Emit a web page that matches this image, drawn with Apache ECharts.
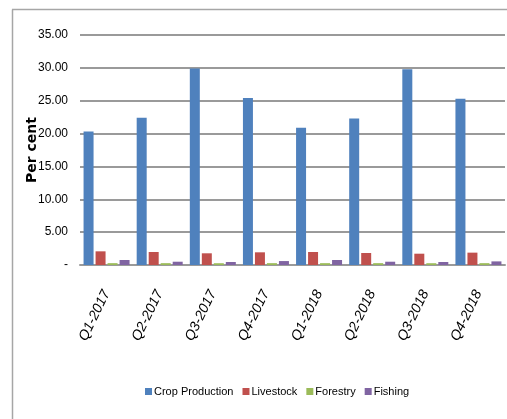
<!DOCTYPE html>
<html>
<head>
<meta charset="utf-8">
<script src="https://cdn.jsdelivr.net/npm/echarts@6/dist/echarts.min.js"></script>
<style>
  html, body { margin: 0; padding: 0; background: #fff; }
  #chart { width: 507px; height: 419px; }
</style>
</head>
<body>
<div id="chart"></div>
<script>
// Quarterly shares by agricultural sub-sector (per cent)
const quarters = ['Q1-2017', 'Q2-2017', 'Q3-2017', 'Q4-2017', 'Q1-2018', 'Q2-2018', 'Q3-2018', 'Q4-2018'];
const cropProduction = [20.3, 22.4, 29.9, 25.4, 20.9, 22.3, 29.8, 25.3];
const livestock = [2.08, 1.98, 1.78, 1.93, 1.98, 1.83, 1.72, 1.88];
const forestry = [0.28, 0.28, 0.27, 0.28, 0.28, 0.28, 0.27, 0.28];
const fishing = [0.76, 0.50, 0.46, 0.60, 0.76, 0.50, 0.46, 0.55];
const yTicks = { min: 0, max: 35, step: 5 };

const sans = '"Liberation Sans", Arial, sans-serif';
const gridColor = '#9a9a9a';

const chart = echarts.init(document.getElementById('chart'), null, { renderer: 'canvas' });

function barSeries(name, data, color) {
  return {
    name: name,
    type: 'bar',
    data: data,
    barWidth: 10,
    barGap: '20%',
    itemStyle: { color: color },
    emphasis: { disabled: true }
  };
}

chart.setOption({
  animation: false,
  grid: { left: 80, right: 2, top: 35, bottom: 154 },
  graphic: [
    { type: 'line', shape: { x1: 12.5, y1: 9.5, x2: 12.5, y2: 419 }, style: { stroke: '#a6a6a6', lineWidth: 1.5 } },
    { type: 'line', shape: { x1: 12, y1: 9.5, x2: 507, y2: 9.5 }, style: { stroke: '#a6a6a6', lineWidth: 1.5 } }
  ],
  legend: {
    left: 140,
    top: 381,
    itemWidth: 7,
    itemHeight: 7,
    itemGap: 9,
    icon: 'rect',
    textStyle: { fontFamily: sans, fontSize: 11, color: '#000', padding: [0, 0, 0, -3] },
    data: ['Crop Production', 'Livestock', 'Forestry', 'Fishing']
  },
  xAxis: {
    type: 'category',
    data: quarters,
    axisLine: { lineStyle: { color: gridColor, width: 2 } },
    axisTick: { show: false },
    axisLabel: {
      rotate: 64,
      margin: 26,
      fontFamily: sans,
      fontSize: 14,
      fontStyle: 'italic',
      color: '#000'
    }
  },
  yAxis: {
    type: 'value',
    min: yTicks.min,
    max: yTicks.max,
    interval: yTicks.step,
    name: 'Per cent',
    nameLocation: 'middle',
    nameRotate: 90,
    nameGap: 41,
    nameMoveOverlap: false,
    nameTextStyle: { fontFamily: '"DejaVu Sans", sans-serif', fontSize: 14, fontWeight: 'bold', color: '#000' },
    axisLine: { show: false },
    axisTick: { show: false },
    splitLine: { lineStyle: { color: gridColor, width: 2 } },
    axisLabel: {
      margin: 12,
      fontFamily: sans,
      fontSize: 12,
      color: '#000',
      formatter: v => (v === 0 ? '-' : v.toFixed(2))
    }
  },
  series: [
    barSeries('Crop Production', cropProduction, '#4F81BD'),
    barSeries('Livestock', livestock, '#C0504D'),
    barSeries('Forestry', forestry, '#9BBB59'),
    barSeries('Fishing', fishing, '#8064A2')
  ]
});
</script>
</body>
</html>
